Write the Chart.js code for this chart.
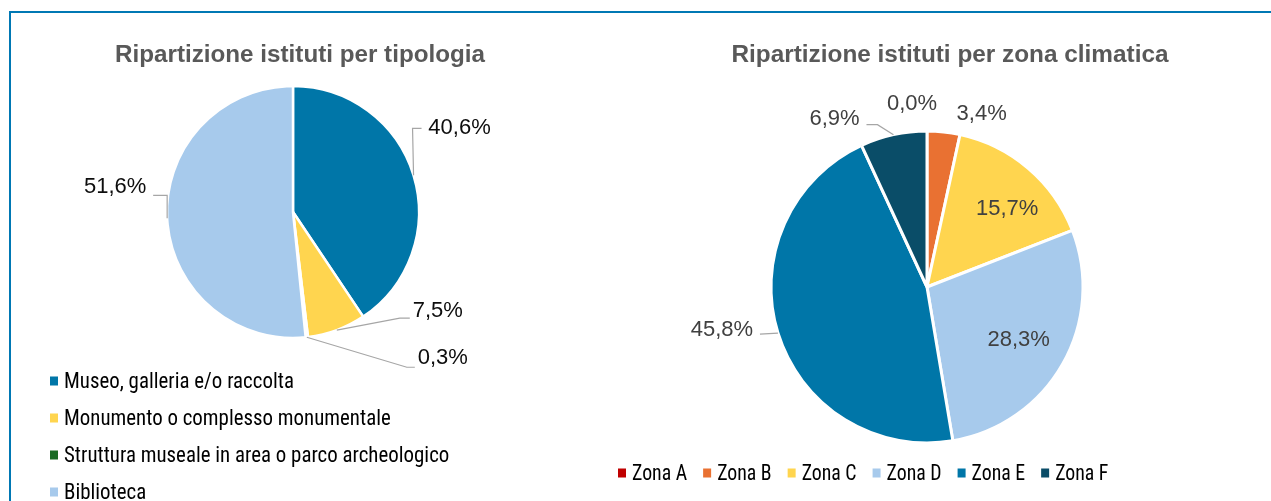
<!DOCTYPE html>
<html>
<head>
<meta charset="utf-8">
<script src="https://cdn.jsdelivr.net/npm/chart.js@4"></script>
<style>
  html, body { margin: 0; padding: 0; background: #fff; overflow: hidden; }
  body { width: 1271px; height: 501px; position: relative; }
  #frame { position: absolute; left: 9px; top: 11px; width: 1400px; height: 700px;
           border-top: 2px solid #0078B4; border-left: 2px solid #0078B4; }
  canvas { position: absolute; top: 0; }
  #tipologiaChart { left: 0; }
  #zonaChart { left: 600px; }
</style>
</head>
<body>
<div id="frame"></div>
<canvas id="tipologiaChart" width="600" height="501"></canvas>
<canvas id="zonaChart" width="671" height="501"></canvas>
<script>
const tipologiaLabels = ['Museo, galleria e/o raccolta', 'Monumento o complesso monumentale',
    'Struttura museale in area o parco archeologico', 'Biblioteca'];
const tipologiaValues = [40.6, 7.5, 0.3, 51.6];
const tipologiaColors = ['#0076A8', '#FFD54F', '#196B24', '#A7CAEC'];

const zonaLabels = ['Zona A', 'Zona B', 'Zona C', 'Zona D', 'Zona E', 'Zona F'];
const zonaValues = [0.0, 3.4, 15.7, 28.3, 45.8, 6.9];
const zonaColors = ['#C00000', '#E97132', '#FFD54F', '#A7CAEC', '#0076A8', '#0A4D68'];

const NARROW = '"Liberation Sans Narrow", "Arial Narrow", "Roboto Condensed", sans-serif';
const SANS = '"Liberation Sans", Arial, sans-serif';

const fmt = v => v.toFixed(1).replace('.', ',') + '%';

// data labels, placed relative to the point on the rim at the slice middle
const pieLabels = {
    id: 'pieLabels',
    afterDatasetsDraw(chart, args, opts) {
        const ctx = chart.ctx;
        const meta = chart.getDatasetMeta(0);
        const values = chart.data.datasets[0].data;
        ctx.save();
        ctx.font = opts.font;
        ctx.textAlign = 'center';
        ctx.textBaseline = 'middle';
        meta.data.forEach((arc, i) => {
            const p = arc.getProps(['x', 'y', 'startAngle', 'endAngle', 'outerRadius'], true);
            const mid = (p.startAngle + p.endAngle) / 2;
            const ex = p.x + Math.cos(mid) * p.outerRadius;
            const ey = p.y + Math.sin(mid) * p.outerRadius;
            const pl = opts.placement[i];
            const tx = ex + pl.dx, ty = ey + pl.dy;
            if (pl.leader) {
                ctx.strokeStyle = '#A6A6A6';
                ctx.lineWidth = 1.2;
                ctx.beginPath();
                ctx.moveTo(ex, ey);
                pl.leader.forEach(([lx, ly]) => ctx.lineTo(tx + lx, ty + ly));
                ctx.stroke();
            }
            ctx.fillStyle = opts.color;
            ctx.fillText(fmt(values[i]), tx, ty);
        });
        ctx.restore();
    }
};

const titleAndLegend = {
    id: 'titleAndLegend',
    afterDraw(chart, args, opts) {
        const ctx = chart.ctx;
        ctx.save();
        // title, stretched to the width it has in the original
        ctx.font = 'bold 23px ' + SANS;
        ctx.fillStyle = '#595959';
        ctx.textAlign = 'center';
        ctx.textBaseline = 'alphabetic';
        const w = ctx.measureText(opts.title).width;
        ctx.save();
        ctx.translate(opts.titleX, 62);
        ctx.scale(opts.titleWidth / w, 1);
        ctx.fillText(opts.title, 0, 0);
        ctx.restore();

        ctx.font = '22px ' + NARROW;
        ctx.textAlign = 'left';
        ctx.textBaseline = 'middle';
        const labels = chart.data.labels;
        const colors = chart.data.datasets[0].backgroundColor;
        const sx = opts.legendScaleX;
        let x = opts.legendX, y = opts.legendY;
        labels.forEach((lab, i) => {
            ctx.fillStyle = colors[i];
            ctx.fillRect(x, y - 4.5, 8, 9);
            ctx.fillStyle = '#000';
            ctx.save();
            ctx.translate(x + 14, y + 1);
            ctx.scale(sx, 1);
            ctx.fillText(lab, 0, 0);
            ctx.restore();
            if (opts.vertical) {
                y += 37;
            } else {
                x += 14 + ctx.measureText(lab).width * sx + 16;
            }
        });
        ctx.restore();
    }
};

new Chart(document.getElementById('tipologiaChart').getContext('2d'), {
    type: 'pie',
    data: {
        labels: tipologiaLabels,
        datasets: [{
            data: tipologiaValues,
            backgroundColor: tipologiaColors,
            borderColor: '#fff',
            borderWidth: 2.5
        }]
    },
    options: {
        responsive: false,
        animation: false,
        events: [],
        radius: 126,
        layout: { padding: { left: 167, top: 86, right: 181, bottom: 163 } },
        plugins: {
            legend: { display: false },
            tooltip: { enabled: false },
            pieLabels: {
                font: '22px ' + SANS,
                color: '#0D0D0D',
                placement: [
                    { dx: 46, dy: -47, leader: [[-47, 0], [-38, 0]] },
                    { dx: 101, dy: -19, leader: [[-38, 7], [-28, 7]] },
                    { dx: 136, dy: 21, leader: [[-36, 9], [-28, 9]] },
                    { dx: -52, dy: -31, leader: [[52, 8], [38, 8]] }
                ]
            },
            titleAndLegend: {
                title: 'Ripartizione istituti per tipologia',
                titleX: 300, titleWidth: 370,
                legendScaleX: 0.95,
                legendX: 50, legendY: 381, vertical: true
            }
        }
    },
    plugins: [pieLabels, titleAndLegend]
});

new Chart(document.getElementById('zonaChart').getContext('2d'), {
    type: 'pie',
    data: {
        labels: zonaLabels,
        datasets: [{
            data: zonaValues,
            backgroundColor: zonaColors,
            borderColor: '#fff',
            borderWidth: 3
        }]
    },
    options: {
        responsive: false,
        animation: false,
        events: [],
        radius: 156,
        layout: { padding: { left: 171, top: 131, right: 188, bottom: 58 } },
        plugins: {
            legend: { display: false },
            tooltip: { enabled: false },
            pieLabels: {
                font: '22px ' + SANS,
                color: '#404040',
                placement: [
                    { dx: -15, dy: -27 },
                    { dx: 38, dy: -18 },
                    { dx: -21, dy: 41 },
                    { dx: -44, dy: -24 },
                    { dx: -56, dy: -3, leader: [[38, 4]] },
                    { dx: -59, dy: -16, leader: [[43, 6], [32, 6]] }
                ]
            },
            titleAndLegend: {
                title: 'Ripartizione istituti per zona climatica',
                titleX: 350, titleWidth: 437,
                legendScaleX: 0.9,
                legendX: 18, legendY: 473, vertical: false
            }
        }
    },
    plugins: [pieLabels, titleAndLegend]
});
</script>
</body>
</html>
